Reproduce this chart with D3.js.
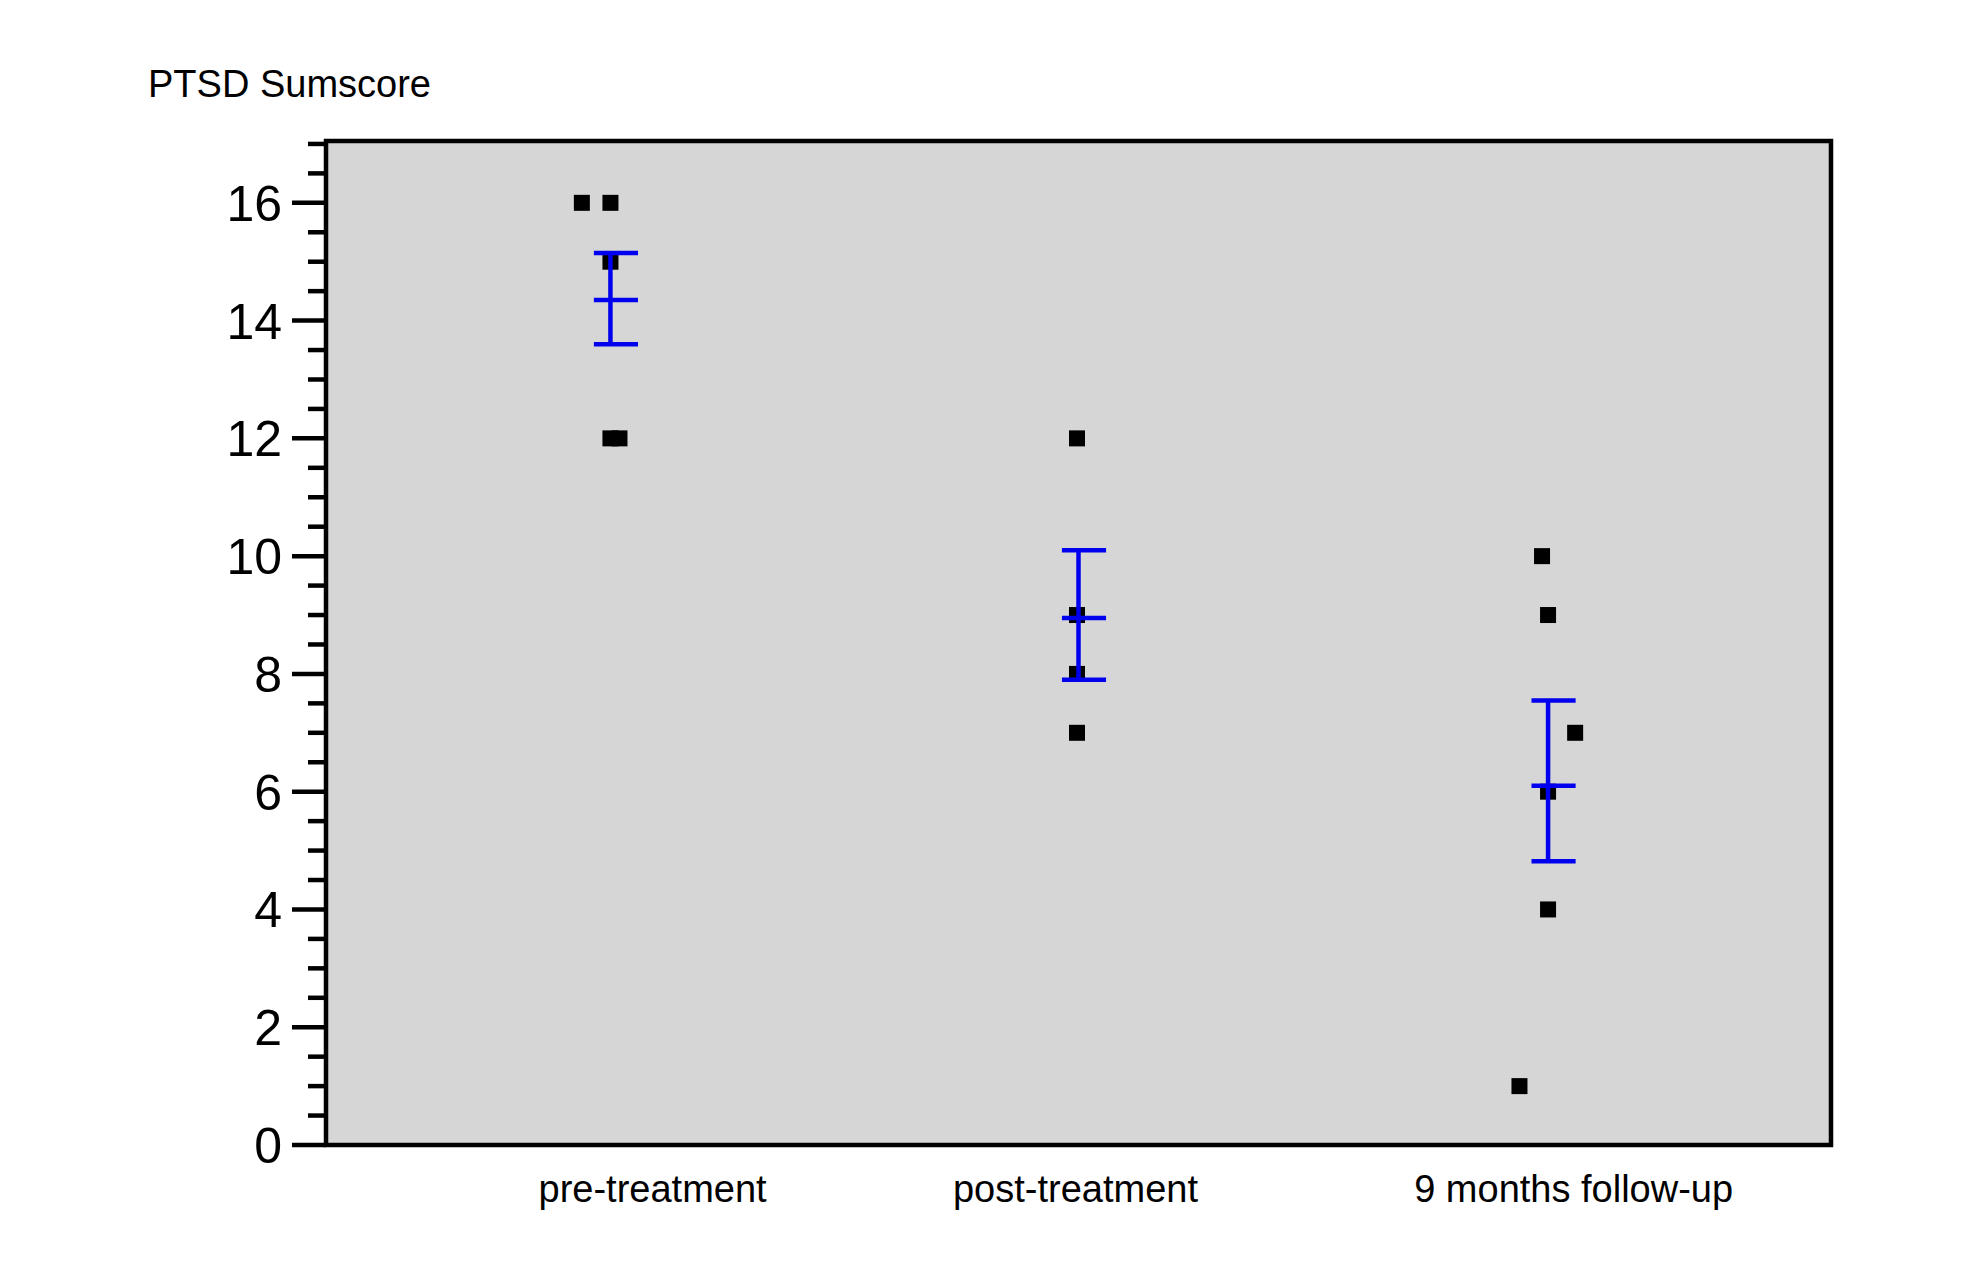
<!DOCTYPE html>
<html><head><meta charset="utf-8">
<script src="https://cdn.jsdelivr.net/npm/d3@7"></script>
<style>body{margin:0;background:#fff}text{font-family:"Liberation Sans",Arial,sans-serif}</style>
</head><body><svg id="c" width="1963" height="1283"></svg>
<script>
var categories = ['pre-treatment', 'post-treatment', '9 months follow-up'];
var labelPos = [2.17, 4.98, 8.29];
var barPos = [1.89, 5.0, 8.12];
var pointX = [[1.70, 1.89, 1.89, 1.89, 1.95], [4.99, 4.99, 4.99, 4.99], [8.08, 8.12, 8.30, 8.12, 8.12, 7.93]];
var pointY = [[16, 16, 15, 12, 12], [12, 9, 8, 7], [10, 9, 7, 6, 4, 1]];
var means = [14.35, 8.95, 6.1];
var lows = [13.6, 7.9, 4.82];
var highs = [15.15, 10.1, 7.55];
var yTicks = [0, 2, 4, 6, 8, 10, 12, 14, 16];

var L = 326, R = 1831, T = 141, B = 1145;
var svg = d3.select('#c');
var x = d3.scaleLinear().domain([0, 10]).range([L, R]);
var y = d3.scaleLinear().domain([0, 17.05]).range([B, T]);

svg.append('rect').attr('x', L).attr('y', T).attr('width', R - L).attr('height', B - T)
  .attr('fill', '#d6d6d6').attr('stroke', '#000').attr('stroke-width', 4.5);

var minor = d3.range(0, 17.01, 0.5).filter(function (d) { return d % 2 !== 0; });
svg.selectAll('.mn').data(minor).enter().append('line')
  .attr('x1', L - 18).attr('x2', L).attr('y1', function (d) { return y(d); }).attr('y2', function (d) { return y(d); })
  .attr('stroke', '#000').attr('stroke-width', 4.5);
svg.selectAll('.mj').data(yTicks).enter().append('line')
  .attr('x1', L - 34).attr('x2', L).attr('y1', function (d) { return y(d); }).attr('y2', function (d) { return y(d); })
  .attr('stroke', '#000').attr('stroke-width', 4.5);
svg.selectAll('.yl').data(yTicks).enter().append('text')
  .attr('x', L - 44).attr('y', function (d) { return y(d); }).attr('dy', '0.36em')
  .attr('text-anchor', 'end').attr('font-size', 50).text(function (d) { return d; });

svg.selectAll('.xl').data(categories).enter().append('text')
  .attr('x', function (d, i) { return x(labelPos[i]); }).attr('y', B + 57)
  .attr('text-anchor', 'middle').attr('font-size', 38).text(function (d) { return d; });

svg.append('text').attr('x', 148).attr('y', 97).attr('font-size', 38).text('PTSD Sumscore');

categories.forEach(function (c, i) {
  var g = svg.append('g');
  var pts = pointX[i].map(function (v, j) { return [v, pointY[i][j]]; });
  g.selectAll('rect').data(pts).enter().append('rect')
    .attr('x', function (d) { return x(d[0]) - 8; }).attr('y', function (d) { return y(d[1]) - 8; })
    .attr('width', 16).attr('height', 16).attr('fill', '#000');
  var cx = x(barPos[i]), w = x(0.13) - x(0);
  var eb = svg.append('g').attr('stroke', '#0000ee').attr('stroke-width', 4.5);
  eb.append('line').attr('x1', cx).attr('x2', cx).attr('y1', y(lows[i])).attr('y2', y(highs[i]));
  [lows[i], means[i], highs[i]].forEach(function (v) {
    eb.append('line').attr('x1', cx - w + 3).attr('x2', cx + w + 8).attr('y1', y(v)).attr('y2', y(v));
  });
});
</script></body></html>
